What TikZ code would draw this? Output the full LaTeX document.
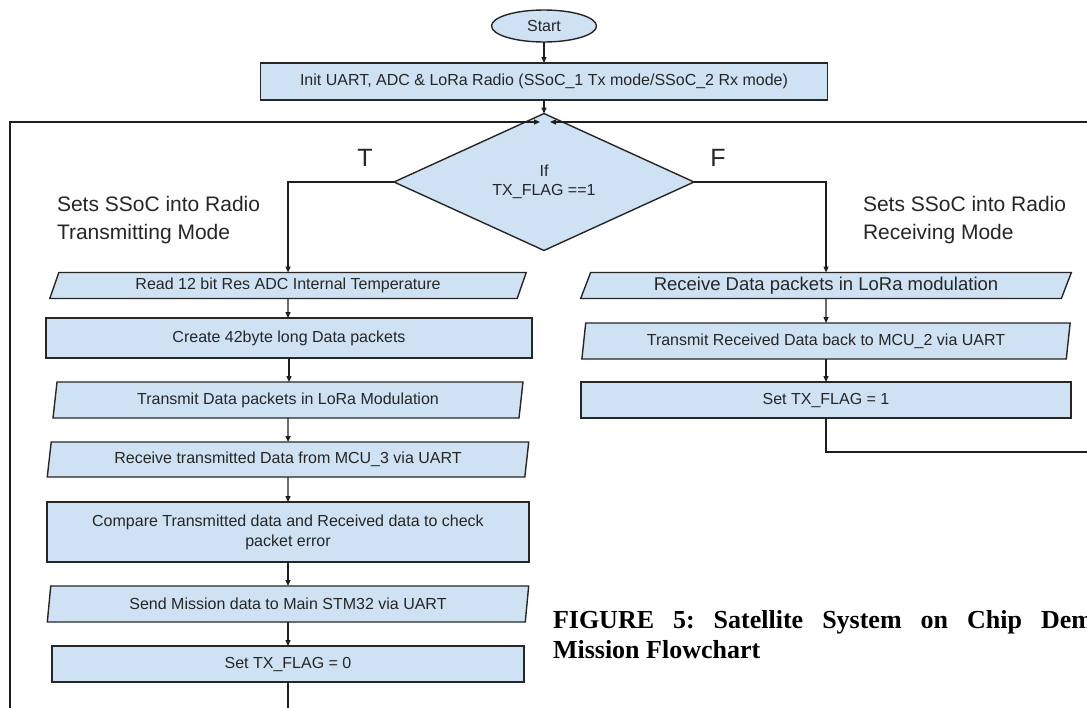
\documentclass[tikz,border=0pt]{standalone}
\usepackage{fontspec}
\setmainfont{Liberation Sans}
\newfontfamily\capfont{Liberation Serif}
\usetikzlibrary{shapes.geometric,arrows.meta}
\definecolor{boxfill}{HTML}{CFE2F3}
\definecolor{boxline}{HTML}{262626}
\definecolor{linecol}{HTML}{1E1E1E}
\frenchspacing
\begin{document}
\begin{tikzpicture}[x=1pt,y=-1pt,
  every node/.style={inner sep=0pt, outer sep=0pt},
  proc/.style={draw=boxline, fill=boxfill, line width=1.4pt, rectangle,
    font=\fontsize{16}{20}\selectfont, align=center, text=black!85},
  iobox/.style={proc, trapezium, trapezium left angle=#1, trapezium right angle={180-#1},
    trapezium stretches=true},
  conn/.style={draw=linecol, line width=1.3pt},
  arr/.style={conn, -{Triangle[length=6pt,width=5pt]}},
  sidelab/.style={font=\fontsize{21}{28}\selectfont, align=left, text=black!85},
  branchlab/.style={font=\fontsize{25}{28}\selectfont, text=black!85},
  capstyle/.style={font=\capfont\bfseries\fontsize{26}{30}\selectfont}
]
\useasboundingbox[fill=white] (0,0) rectangle (1087,707);

% top
\node[proc, ellipse, minimum width=105pt, minimum height=32pt] (start) at (544,26) {Start};
\node[proc, minimum width=567pt, minimum height=37pt] (init) at (544,81.5)
  {Init UART, ADC \& LoRa Radio (SSoC\_1 Tx mode/SSoC\_2 Rx mode)};
\node[proc, diamond, minimum width=300pt, minimum height=90pt, font=\fontsize{16}{19}\selectfont] (dec) at (544,182)
  {If\\TX\_FLAG ==1};

\node[branchlab] (tl) at (365,158) {T};
\node[branchlab] (fl) at (718,158) {F};

\node[sidelab, anchor=north west] (txlab) at (57,196) {Sets SSoC into Radio\\Transmitting Mode};
\node[sidelab, anchor=north west] (rxlab) at (863,196) {Sets SSoC into Radio\\Receiving Mode};

% left column
\node[iobox=68, minimum width=478pt, minimum height=26pt] (read) at (288,285.5)
  {Read 12 bit Res ADC Internal Temperature};
\node[proc, minimum width=486pt, minimum height=40pt] (create) at (289,338)
  {Create 42byte long Data packets};
\node[iobox=80, minimum width=471pt, minimum height=36pt] (trans) at (288,400)
  {Transmit Data packets in LoRa Modulation};
\node[iobox=79, minimum width=483pt, minimum height=35pt] (recv) at (288,459.5)
  {Receive transmitted Data from MCU\_3 via UART};
\node[proc, minimum width=482pt, minimum height=60pt] (comp) at (288,532)
  {Compare Transmitted data and Received data to check\\packet error};
\node[iobox=79, minimum width=483pt, minimum height=36pt] (send) at (288,604)
  {Send Mission data to Main STM32 via UART};
\node[proc, minimum width=472pt, minimum height=36pt] (set0) at (288,664)
  {Set TX\_FLAG = 0};

% right column
\node[iobox=67, minimum width=492pt, minimum height=26pt, font=\fontsize{18.5}{22}\selectfont] (rrecv) at (826,285.5)
  {Receive Data packets in LoRa modulation};
\node[iobox=79, minimum width=491pt, minimum height=36pt] (rtrans) at (826,341)
  {Transmit Received Data back to MCU\_2 via UART};
\node[proc, minimum width=490pt, minimum height=36pt] (set1) at (826,400)
  {Set TX\_FLAG = 1};

% coordinates for loops
\coordinate (mL) at (540,122);
\coordinate (mR) at (550,122);
\coordinate (lb) at (288,720);
\coordinate (lc) at (10,720);
\coordinate (lt) at (10,122);
\coordinate (rb) at (826,452);
\coordinate (rc) at (1092,452);
\coordinate (rt) at (1092,122);

% connectors
\draw[arr] (start) -- (init);
\draw[arr] (init) -- (dec);
\draw[arr] (dec.west) -| (read.north);
\draw[arr] (dec.east) -| (rrecv.north);
\draw[arr] (read) -- (read |- create.north);
\draw[arr] (create) -- (create |- trans.north);
\draw[arr] (trans) -- (recv);
\draw[arr] (recv) -- (comp);
\draw[arr] (comp) -- (send);
\draw[arr] (send) -- (set0);
\draw[arr] (rrecv) -- (rtrans);
\draw[arr] (rtrans) -- (set1);
\draw[arr] (set0.south) -- (lb) -- (lc) -- (lt) -- (mL);
\draw[arr] (set1.south) -- (rb) -- (rc) -- (rt) -- (mR);

% caption
\node[capstyle, anchor=base west] (cap1) at (553,628)
  {\makebox[540pt][s]{FIGURE 5: Satellite System on Chip Dem}};
\node[capstyle, anchor=base west] (cap2) at (553,658) {Mission Flowchart};
\end{tikzpicture}
\end{document}
